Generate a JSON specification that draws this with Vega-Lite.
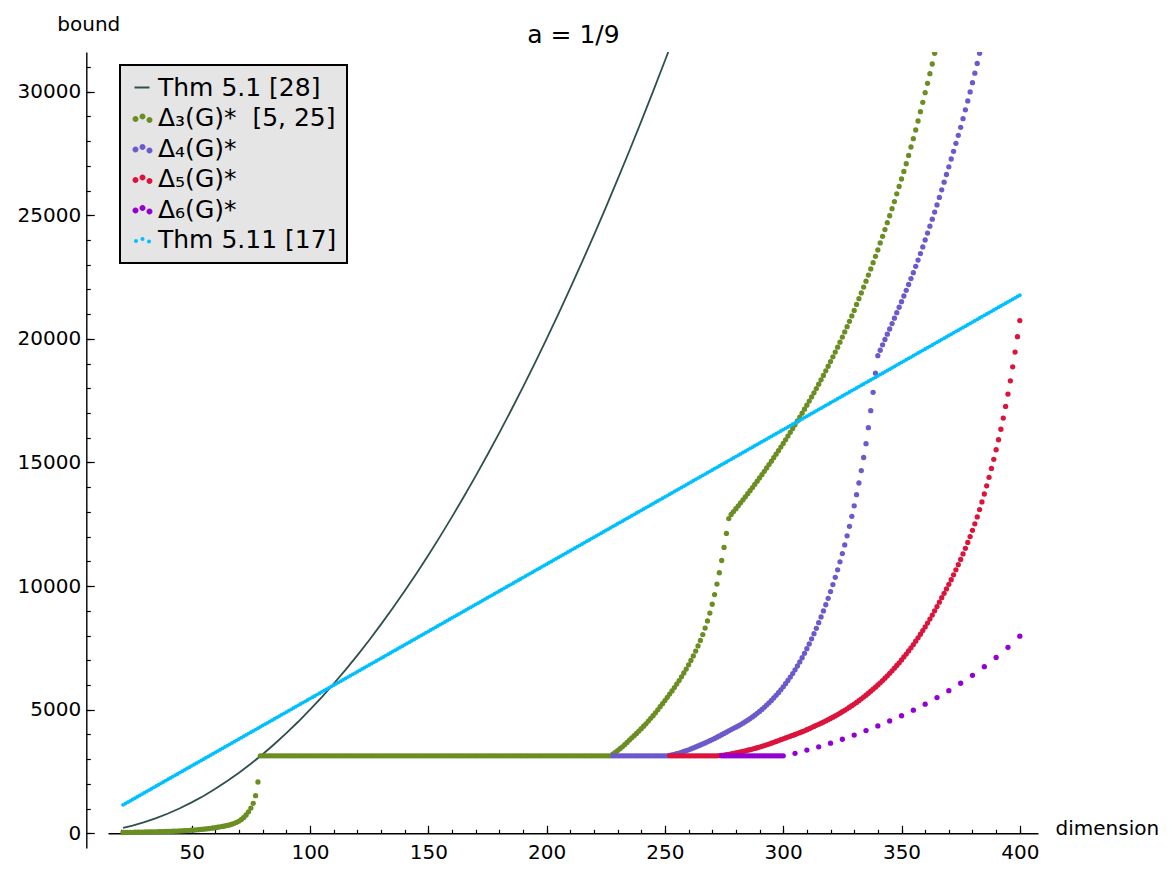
{
"$schema":"https://vega.github.io/schema/vega-lite/v6.json",
"width":930,"height":796,
"autosize":{"type":"none"},
"padding":{"left":108,"top":52,"right":138,"bottom":30},
"background":"white",
"config":{"font":"DejaVu Sans","view":{"stroke":null}},
"data":{"values":[
{"x":21,"c":1150,"g":32,"t":220},{"x":22,"c":1204,"g":34},{"x":23,"c":1259,"g":36},{"x":24,"c":1313,"g":38},{"x":25,"c":1368,"g":40,"t":312},
{"x":26,"c":1422,"g":42},{"x":27,"c":1476,"g":44},{"x":28,"c":1531,"g":46},{"x":29,"c":1585,"g":48},{"x":30,"c":1640,"g":50,"t":450},
{"x":31,"c":1694,"g":52},{"x":32,"c":1748,"g":54},{"x":33,"c":1803,"g":56},{"x":34,"c":1857,"g":58},{"x":35,"c":1912,"g":60,"t":612},
{"x":36,"c":1966,"g":63},{"x":37,"c":2020,"g":66},{"x":38,"c":2075,"g":69},{"x":39,"c":2129,"g":72},{"x":40,"c":2184,"g":75,"t":800},
{"x":41,"c":2238,"g":79},{"x":42,"c":2292,"g":83},{"x":43,"c":2347,"g":87},{"x":44,"c":2401,"g":91},{"x":45,"c":2456,"g":95,"t":1012},
{"x":46,"c":2510,"g":100},{"x":47,"c":2564,"g":106},{"x":48,"c":2619,"g":112},{"x":49,"c":2673,"g":118},{"x":50,"c":2728,"g":125,"t":1250},
{"x":51,"c":2782,"g":132},{"x":52,"c":2836,"g":140},{"x":53,"c":2891,"g":147},{"x":54,"c":2945,"g":155},{"x":55,"c":3000,"g":165,"t":1512},
{"x":56,"c":3054,"g":175},{"x":57,"c":3108,"g":187},{"x":58,"c":3163,"g":200},{"x":59,"c":3217,"g":214},{"x":60,"c":3272,"g":228,"t":1800},
{"x":61,"c":3326,"g":244},{"x":62,"c":3380,"g":260},{"x":63,"c":3435,"g":277},{"x":64,"c":3489,"g":295},{"x":65,"c":3544,"g":317,"t":2112},
{"x":66,"c":3598,"g":340},{"x":67,"c":3652,"g":370},{"x":68,"c":3707,"g":405},{"x":69,"c":3761,"g":445},{"x":70,"c":3816,"g":495,"t":2450},
{"x":71,"c":3870,"g":560},{"x":72,"c":3924,"g":640},{"x":73,"c":3979,"g":740},{"x":74,"c":4033,"g":870},{"x":75,"c":4088,"g":1020,"t":2812},
{"x":76,"c":4142,"g":1214},{"x":77,"c":4196,"g":1522},{"x":78,"c":4251,"g":2075},{"x":79,"c":4305,"g":3135},{"x":80,"c":4360,"g":3135,"t":3200},
{"x":81,"c":4414,"g":3135},{"x":82,"c":4468,"g":3135},{"x":83,"c":4523,"g":3135},{"x":84,"c":4577,"g":3135},{"x":85,"c":4632,"g":3135,"t":3612},
{"x":86,"c":4686,"g":3135},{"x":87,"c":4740,"g":3135},{"x":88,"c":4795,"g":3135},{"x":89,"c":4849,"g":3135},{"x":90,"c":4904,"g":3135,"t":4050},
{"x":91,"c":4958,"g":3135},{"x":92,"c":5012,"g":3135},{"x":93,"c":5067,"g":3135},{"x":94,"c":5121,"g":3135},{"x":95,"c":5176,"g":3135,"t":4512},
{"x":96,"c":5230,"g":3135},{"x":97,"c":5284,"g":3135},{"x":98,"c":5339,"g":3135},{"x":99,"c":5393,"g":3135},{"x":100,"c":5448,"g":3135,"t":5000},
{"x":101,"c":5502,"g":3135},{"x":102,"c":5556,"g":3135},{"x":103,"c":5611,"g":3135},{"x":104,"c":5665,"g":3135},{"x":105,"c":5720,"g":3135,"t":5512},
{"x":106,"c":5774,"g":3135},{"x":107,"c":5828,"g":3135},{"x":108,"c":5883,"g":3135},{"x":109,"c":5937,"g":3135},{"x":110,"c":5992,"g":3135,"t":6050},
{"x":111,"c":6046,"g":3135},{"x":112,"c":6100,"g":3135},{"x":113,"c":6155,"g":3135},{"x":114,"c":6209,"g":3135},{"x":115,"c":6264,"g":3135,"t":6612},
{"x":116,"c":6318,"g":3135},{"x":117,"c":6372,"g":3135},{"x":118,"c":6427,"g":3135},{"x":119,"c":6481,"g":3135},{"x":120,"c":6536,"g":3135,"t":7200},
{"x":121,"c":6590,"g":3135},{"x":122,"c":6644,"g":3135},{"x":123,"c":6699,"g":3135},{"x":124,"c":6753,"g":3135},{"x":125,"c":6808,"g":3135,"t":7812},
{"x":126,"c":6862,"g":3135},{"x":127,"c":6916,"g":3135},{"x":128,"c":6971,"g":3135},{"x":129,"c":7025,"g":3135},{"x":130,"c":7080,"g":3135,"t":8450},
{"x":131,"c":7134,"g":3135},{"x":132,"c":7188,"g":3135},{"x":133,"c":7243,"g":3135},{"x":134,"c":7297,"g":3135},{"x":135,"c":7352,"g":3135,"t":9112},
{"x":136,"c":7406,"g":3135},{"x":137,"c":7460,"g":3135},{"x":138,"c":7515,"g":3135},{"x":139,"c":7569,"g":3135},{"x":140,"c":7624,"g":3135,"t":9800},
{"x":141,"c":7678,"g":3135},{"x":142,"c":7732,"g":3135},{"x":143,"c":7787,"g":3135},{"x":144,"c":7841,"g":3135},{"x":145,"c":7896,"g":3135,"t":10512},
{"x":146,"c":7950,"g":3135},{"x":147,"c":8004,"g":3135},{"x":148,"c":8059,"g":3135},{"x":149,"c":8113,"g":3135},{"x":150,"c":8168,"g":3135,"t":11250},
{"x":151,"c":8222,"g":3135},{"x":152,"c":8276,"g":3135},{"x":153,"c":8331,"g":3135},{"x":154,"c":8385,"g":3135},{"x":155,"c":8440,"g":3135,"t":12012},
{"x":156,"c":8494,"g":3135},{"x":157,"c":8548,"g":3135},{"x":158,"c":8603,"g":3135},{"x":159,"c":8657,"g":3135},{"x":160,"c":8712,"g":3135,"t":12800},
{"x":161,"c":8766,"g":3135},{"x":162,"c":8820,"g":3135},{"x":163,"c":8875,"g":3135},{"x":164,"c":8929,"g":3135},{"x":165,"c":8984,"g":3135,"t":13612},
{"x":166,"c":9038,"g":3135},{"x":167,"c":9092,"g":3135},{"x":168,"c":9147,"g":3135},{"x":169,"c":9201,"g":3135},{"x":170,"c":9256,"g":3135,"t":14450},
{"x":171,"c":9310,"g":3135},{"x":172,"c":9364,"g":3135},{"x":173,"c":9419,"g":3135},{"x":174,"c":9473,"g":3135},{"x":175,"c":9528,"g":3135,"t":15312},
{"x":176,"c":9582,"g":3135},{"x":177,"c":9636,"g":3135},{"x":178,"c":9691,"g":3135},{"x":179,"c":9745,"g":3135},{"x":180,"c":9800,"g":3135,"t":16200},
{"x":181,"c":9854,"g":3135},{"x":182,"c":9908,"g":3135},{"x":183,"c":9963,"g":3135},{"x":184,"c":10017,"g":3135},{"x":185,"c":10072,"g":3135,"t":17112},
{"x":186,"c":10126,"g":3135},{"x":187,"c":10180,"g":3135},{"x":188,"c":10235,"g":3135},{"x":189,"c":10289,"g":3135},{"x":190,"c":10344,"g":3135,"t":18050},
{"x":191,"c":10398,"g":3135},{"x":192,"c":10452,"g":3135},{"x":193,"c":10507,"g":3135},{"x":194,"c":10561,"g":3135},{"x":195,"c":10616,"g":3135,"t":19012},
{"x":196,"c":10670,"g":3135},{"x":197,"c":10724,"g":3135},{"x":198,"c":10779,"g":3135},{"x":199,"c":10833,"g":3135},{"x":200,"c":10888,"g":3135,"t":20000},
{"x":201,"c":10942,"g":3135},{"x":202,"c":10996,"g":3135},{"x":203,"c":11051,"g":3135},{"x":204,"c":11105,"g":3135},{"x":205,"c":11160,"g":3135,"t":21012},
{"x":206,"c":11214,"g":3135},{"x":207,"c":11268,"g":3135},{"x":208,"c":11323,"g":3135},{"x":209,"c":11377,"g":3135},{"x":210,"c":11432,"g":3135,"t":22050},
{"x":211,"c":11486,"g":3135},{"x":212,"c":11540,"g":3135},{"x":213,"c":11595,"g":3135},{"x":214,"c":11649,"g":3135},{"x":215,"c":11704,"g":3135,"t":23112},
{"x":216,"c":11758,"g":3135},{"x":217,"c":11812,"g":3135},{"x":218,"c":11867,"g":3135},{"x":219,"c":11921,"g":3135},{"x":220,"c":11976,"g":3135,"t":24200},
{"x":221,"c":12030,"g":3135},{"x":222,"c":12084,"g":3135},{"x":223,"c":12139,"g":3135},{"x":224,"c":12193,"g":3135},{"x":225,"c":12248,"g":3135,"t":25312},
{"x":226,"c":12302,"g":3135},{"x":227,"c":12356,"g":3135},
{"x":228,"c":12411,"g":3200,"p":3135},{"x":229,"c":12465,"g":3270,"p":3135},{"x":230,"c":12520,"g":3345,"p":3135,"t":26450},
{"x":231,"c":12574,"g":3420,"p":3135},{"x":232,"c":12628,"g":3500,"p":3135},{"x":233,"c":12683,"g":3585,"p":3135},{"x":234,"c":12737,"g":3675,"p":3135},{"x":235,"c":12792,"g":3770,"p":3135,"t":27612},
{"x":236,"c":12846,"g":3860,"p":3135},{"x":237,"c":12900,"g":3950,"p":3135},{"x":238,"c":12955,"g":4040,"p":3135},{"x":239,"c":13009,"g":4135,"p":3135},{"x":240,"c":13064,"g":4230,"p":3135,"t":28800},
{"x":241,"c":13118,"g":4330,"p":3135},{"x":242,"c":13172,"g":4430,"p":3135},{"x":243,"c":13227,"g":4540,"p":3135},{"x":244,"c":13281,"g":4650,"p":3135},{"x":245,"c":13336,"g":4760,"p":3135,"t":30012},
{"x":246,"c":13390,"g":4875,"p":3135},{"x":247,"c":13444,"g":4995,"p":3135},{"x":248,"c":13499,"g":5120,"p":3135},{"x":249,"c":13553,"g":5245,"p":3135},{"x":250,"c":13608,"g":5370,"p":3135,"t":31250},
{"x":251,"c":13662,"g":5500,"p":3135},{"x":252,"c":13716,"g":5630,"p":3150,"r":3135},{"x":253,"c":13771,"g":5760,"p":3170,"r":3135},{"x":254,"c":13825,"g":5895,"p":3193,"r":3135},{"x":255,"c":13880,"g":6035,"p":3219,"r":3135,"t":32512},
{"x":256,"c":13934,"g":6180,"p":3247,"r":3135},{"x":257,"c":13988,"g":6330,"p":3277,"r":3135},{"x":258,"c":14043,"g":6485,"p":3309,"r":3135},{"x":259,"c":14097,"g":6645,"p":3342,"r":3135},{"x":260,"c":14152,"g":6815,"p":3377,"r":3135},
{"x":261,"c":14206,"g":6990,"p":3414,"r":3135},{"x":262,"c":14260,"g":7175,"p":3452,"r":3135},{"x":263,"c":14315,"g":7370,"p":3491,"r":3135},{"x":264,"c":14369,"g":7580,"p":3531,"r":3135},{"x":265,"c":14424,"g":7800,"p":3572,"r":3135},
{"x":266,"c":14478,"g":8040,"p":3614,"r":3135},{"x":267,"c":14532,"g":8300,"p":3657,"r":3135},{"x":268,"c":14587,"g":8590,"p":3701,"r":3135},{"x":269,"c":14641,"g":8910,"p":3746,"r":3135},{"x":270,"c":14696,"g":9265,"p":3792,"r":3135},
{"x":271,"c":14750,"g":9655,"p":3839,"r":3135},{"x":272,"c":14804,"g":10080,"p":3887,"r":3135},{"x":273,"c":14859,"g":10540,"p":3936,"r":3143},{"x":274,"c":14913,"g":11035,"p":3986,"r":3153,"v":3135},{"x":275,"c":14968,"g":11565,"p":4038,"r":3165,"v":3135},
{"x":276,"c":15022,"g":12130,"p":4092,"r":3179,"v":3135},{"x":277,"c":15076,"g":12730,"p":4145,"r":3195,"v":3135},{"x":278,"c":15131,"g":12900,"p":4196,"r":3212,"v":3135},{"x":279,"c":15185,"g":13015,"p":4245,"r":3230,"v":3135},{"x":280,"c":15240,"g":13131,"p":4292,"r":3249,"v":3135},
{"x":281,"c":15294,"g":13249,"p":4344,"r":3269,"v":3135},{"x":282,"c":15348,"g":13368,"p":4398,"r":3290,"v":3135},{"x":283,"c":15403,"g":13489,"p":4455,"r":3312,"v":3135},{"x":284,"c":15457,"g":13611,"p":4514,"r":3335,"v":3135},{"x":285,"c":15512,"g":13735,"p":4576,"r":3359,"v":3135},
{"x":286,"c":15566,"g":13860,"p":4641,"r":3383,"v":3135},{"x":287,"c":15620,"g":13987,"p":4709,"r":3408,"v":3135},{"x":288,"c":15675,"g":14115,"p":4780,"r":3434,"v":3135},{"x":289,"c":15729,"g":14245,"p":4854,"r":3461,"v":3135},{"x":290,"c":15784,"g":14376,"p":4931,"r":3489,"v":3135},
{"x":291,"c":15838,"g":14509,"p":5012,"r":3518,"v":3135},{"x":292,"c":15892,"g":14643,"p":5097,"r":3548,"v":3135},{"x":293,"c":15947,"g":14779,"p":5185,"r":3579,"v":3135},{"x":294,"c":16001,"g":14916,"p":5277,"r":3611,"v":3135},{"x":295,"c":16056,"g":15055,"p":5374,"r":3644,"v":3135},
{"x":296,"c":16110,"g":15195,"p":5475,"r":3678,"v":3135},{"x":297,"c":16164,"g":15337,"p":5580,"r":3713,"v":3135},{"x":298,"c":16219,"g":15480,"p":5690,"r":3749,"v":3135},{"x":299,"c":16273,"g":15625,"p":5805,"r":3786,"v":3135},{"x":300,"c":16328,"g":15771,"p":5925,"r":3821,"v":3135},
{"x":301,"c":16382,"g":15919,"p":6050,"r":3856},{"x":302,"c":16436,"g":16068,"p":6181,"r":3891},{"x":303,"c":16491,"g":16219,"p":6318,"r":3926},{"x":304,"c":16545,"g":16371,"p":6462,"r":3961},{"x":305,"c":16600,"g":16525,"p":6611,"r":3996,"v":3235},
{"x":306,"c":16654,"g":16681,"p":6768,"r":4032},{"x":307,"c":16708,"g":16838,"p":6931,"r":4069},{"x":308,"c":16763,"g":16997,"p":7102,"r":4107},{"x":309,"c":16817,"g":17157,"p":7280,"r":4147},{"x":310,"c":16872,"g":17319,"p":7467,"r":4189,"v":3365},
{"x":311,"c":16926,"g":17484,"p":7662,"r":4233},{"x":312,"c":16980,"g":17651,"p":7865,"r":4278},{"x":313,"c":17035,"g":17820,"p":8075,"r":4325},{"x":314,"c":17089,"g":17992,"p":8293,"r":4366},{"x":315,"c":17144,"g":18167,"p":8519,"r":4409,"v":3500},
{"x":316,"c":17198,"g":18344,"p":8753,"r":4453},{"x":317,"c":17252,"g":18524,"p":8995,"r":4499},{"x":318,"c":17307,"g":18707,"p":9246,"r":4546},{"x":319,"c":17361,"g":18893,"p":9507,"r":4595},{"x":320,"c":17416,"g":19082,"p":9778,"r":4645,"v":3645},
{"x":321,"c":17470,"g":19274,"p":10060,"r":4696},{"x":322,"c":17524,"g":19469,"p":10354,"r":4749},{"x":323,"c":17579,"g":19667,"p":10660,"r":4803},{"x":324,"c":17633,"g":19869,"p":10980,"r":4859},{"x":325,"c":17688,"g":20074,"p":11315,"r":4916,"v":3805},
{"x":326,"c":17742,"g":20282,"p":11665,"r":4975},{"x":327,"c":17796,"g":20494,"p":12032,"r":5036},{"x":328,"c":17851,"g":20709,"p":12417,"r":5098},{"x":329,"c":17905,"g":20928,"p":12822,"r":5162},{"x":330,"c":17960,"g":21150,"p":13248,"r":5228,"v":3975},
{"x":331,"c":18014,"g":21396,"p":13697,"r":5296},{"x":332,"c":18068,"g":21626,"p":14171,"r":5366},{"x":333,"c":18123,"g":21859,"p":14672,"r":5438},{"x":334,"c":18177,"g":22096,"p":15202,"r":5512},{"x":335,"c":18232,"g":22337,"p":15763,"r":5588,"v":4155},
{"x":336,"c":18286,"g":22582,"p":16408,"r":5666},{"x":337,"c":18340,"g":22831,"p":17095,"r":5746},{"x":338,"c":18395,"g":23083,"p":17840,"r":5828},{"x":339,"c":18449,"g":23339,"p":18615,"r":5912},{"x":340,"c":18504,"g":23599,"p":19320,"r":5999,"v":4345},
{"x":341,"c":18558,"g":23883,"p":19540,"r":6088},{"x":342,"c":18612,"g":24151,"p":19760,"r":6180},{"x":343,"c":18667,"g":24424,"p":19975,"r":6274},{"x":344,"c":18721,"g":24701,"p":20190,"r":6371},{"x":345,"c":18776,"g":24982,"p":20400,"r":6471,"v":4545},
{"x":346,"c":18830,"g":25267,"p":20620,"r":6574},{"x":347,"c":18884,"g":25556,"p":20840,"r":6679},{"x":348,"c":18939,"g":25869,"p":21060,"r":6787},{"x":349,"c":18993,"g":26167,"p":21280,"r":6898},{"x":350,"c":19048,"g":26469,"p":21505,"r":7013,"v":4755},
{"x":351,"c":19102,"g":26775,"p":21735,"r":7131},{"x":352,"c":19156,"g":27086,"p":21965,"r":7252},{"x":353,"c":19211,"g":27421,"p":22200,"r":7376},{"x":354,"c":19265,"g":27763,"p":22440,"r":7504},{"x":355,"c":19320,"g":28099,"p":22680,"r":7635,"v":4980},
{"x":356,"c":19374,"g":28451,"p":22935,"r":7770},{"x":357,"c":19428,"g":28815,"p":23190,"r":7909},{"x":358,"c":19483,"g":29191,"p":23450,"r":8052},{"x":359,"c":19537,"g":29572,"p":23720,"r":8199},{"x":360,"c":19592,"g":29960,"p":24000,"r":8350,"v":5225},
{"x":361,"c":19646,"g":30340,"p":24280,"r":8505},{"x":362,"c":19700,"g":30729,"p":24560,"r":8665},{"x":363,"c":19755,"g":31121,"p":24845,"r":8829},{"x":364,"c":19809,"g":31553,"p":25130,"r":8998},{"x":365,"c":19864,"p":25420,"r":9171,"v":5490},
{"x":366,"c":19918,"p":25725,"r":9349},{"x":367,"c":19972,"p":26030,"r":9532},{"x":368,"c":20027,"p":26340,"r":9706},{"x":369,"c":20081,"p":26650,"r":9885},{"x":370,"c":20136,"p":26960,"r":10070,"v":5770},
{"x":371,"c":20190,"p":27278,"r":10261},{"x":372,"c":20244,"p":27590,"r":10456},{"x":373,"c":20299,"p":27910,"r":10658},{"x":374,"c":20353,"p":28235,"r":10866},{"x":375,"c":20408,"p":28560,"r":11079,"v":6070},
{"x":376,"c":20462,"p":28910,"r":11300},{"x":377,"c":20516,"p":29265,"r":11530},{"x":378,"c":20571,"p":29625,"r":11765},{"x":379,"c":20625,"p":29990,"r":12005},{"x":380,"c":20680,"p":30364,"r":12255,"v":6390},
{"x":381,"c":20734,"p":30750,"r":12520},{"x":382,"c":20788,"p":31145,"r":12800},{"x":383,"c":20843,"p":31553,"r":13095},{"x":384,"c":20897,"r":13405},{"x":385,"c":20952,"r":13725,"v":6740},
{"x":386,"c":21006,"r":14055},{"x":387,"c":21060,"r":14400},{"x":388,"c":21115,"r":14760},{"x":389,"c":21169,"r":15130},{"x":390,"c":21224,"r":15515,"v":7115},
{"x":391,"c":21278,"r":15920},{"x":392,"c":21332,"r":16345},{"x":393,"c":21387,"r":16795},{"x":394,"c":21441,"r":17270},{"x":395,"c":21496,"r":17770,"v":7525},
{"x":396,"c":21550,"r":18305},{"x":397,"c":21604,"r":18870},{"x":398,"c":21659,"r":19465},{"x":399,"c":21713,"r":20090},{"x":400,"c":21768,"r":20740,"v":7975}
]},
"transform":[{"fold":["t","g","p","r","v","c"],"as":["s","y"]},{"filter":"isValid(datum.y)"}],
"layer":[
{"transform":[{"filter":"datum.s==='t'"}],
 "mark":{"type":"line","strokeWidth":1.8,"clip":true},
 "encoding":{
  "x":{"field":"x","type":"quantitative","scale":{"domain":[14.62,407.69],"nice":false,"zero":false},
   "axis":{"orient":"bottom","offset":-14.7,"values":[20,30,40,50,60,70,80,90,100,110,120,130,140,150,160,170,180,190,200,210,220,230,240,250,260,270,280,290,300,310,320,330,340,350,360,370,380,390,400],"labels":false,"tickSize":-4,"tickColor":"black","tickWidth":1.2,"domain":true,"domainColor":"black","domainWidth":1.4,"grid":false,"title":null}},
  "y":{"field":"y","type":"quantitative","scale":{"domain":[-595,31606],"nice":false,"zero":false},
   "axis":{"orient":"left","offset":21.7,"values":[0,1000,2000,3000,4000,5000,6000,7000,8000,9000,10000,11000,12000,13000,14000,15000,16000,17000,18000,19000,20000,21000,22000,23000,24000,25000,26000,27000,28000,29000,30000,31000],"labels":false,"tickSize":-4,"tickColor":"black","tickWidth":1.2,"domain":true,"domainColor":"black","domainWidth":1.4,"grid":false,"title":null}},
  "color":{"field":"s","type":"nominal",
   "scale":{"domain":["t","g","p","r","v","c"],"range":["#2f4f4f","#6b8e23","#6a5acd","#dc143c","#9400d3","#00bfff"]},
   "legend":{"orient":"none","legendX":12,"legendY":13,"title":null,"fillColor":"#e5e5e5","strokeColor":"black","padding":10,"rowPadding":4.5,
    "labelFontSize":25,"labelFont":"DejaVu Sans","labelColor":"black","labelLimit":400,"symbolSize":400,"labelOffset":3,
    "labelExpr":"datum.value==='t'?'Thm 5.1 [28]':datum.value==='g'?'Δ₃(G)*\u00a0 [5, 25]':datum.value==='p'?'Δ₄(G)*':datum.value==='r'?'Δ₅(G)*':datum.value==='v'?'Δ₆(G)*':'Thm 5.11 [17]'",
    "encode":{
     "legend":{"update":{"strokeWidth":{"value":2}}},
     "symbols":{"update":{
      "shape":{"signal":"datum.value==='t'?'M-0.8,-0.1H0.7V0.1H-0.8Z':datum.value==='c'?'M-0.85,0.1a0.2,0.2 0 1,0 0.4,0a0.2,0.2 0 1,0 -0.4,0ZM-0.2,-0.1a0.2,0.2 0 1,0 0.4,0a0.2,0.2 0 1,0 -0.4,0ZM0.45,0.15a0.2,0.2 0 1,0 0.4,0a0.2,0.2 0 1,0 -0.4,0Z':'M-1,0.1a0.3,0.3 0 1,0 0.6,0a0.3,0.3 0 1,0 -0.6,0ZM-0.3,-0.15a0.3,0.3 0 1,0 0.6,0a0.3,0.3 0 1,0 -0.6,0ZM0.4,0.2a0.3,0.3 0 1,0 0.6,0a0.3,0.3 0 1,0 -0.6,0Z'"},
      "fill":{"scale":"color","field":"value"},
      "stroke":{"value":"transparent"},
      "strokeWidth":{"value":0},
      "opacity":{"value":1}}}}}}
 }},
{"transform":[{"filter":"datum.s==='g'"}],
 "mark":{"type":"point","filled":true,"size":28,"opacity":1,"clip":true,"strokeWidth":0},
 "encoding":{
  "x":{"field":"x","type":"quantitative",
   "axis":{"orient":"bottom","offset":-14.7,"values":[50,100,150,200,250,300,350,400],"format":"d","tickSize":-8,"tickColor":"black","tickWidth":1.2,"domain":false,"grid":false,
    "labelFontSize":20,"labelFont":"DejaVu Sans","labelColor":"black","labelPadding":17,"labelFlush":false,"labelOverlap":false,
    "title":"dimension","titleFont":"DejaVu Sans","titleFontSize":20,"titleFontWeight":"normal","titleColor":"black","titleX":947,"titleY":1,"titleAlign":"left","titleBaseline":"alphabetic","titleAngle":0}},
  "y":{"field":"y","type":"quantitative",
   "axis":{"orient":"left","offset":21.7,"values":[0,5000,10000,15000,20000,25000,30000],"format":"d","tickSize":-8,"tickColor":"black","tickWidth":1.2,"domain":false,"grid":false,
    "labelFontSize":20,"labelFont":"DejaVu Sans","labelColor":"black","labelPadding":13.6,"labelFlush":false,"labelOverlap":false,
    "title":"bound","titleFont":"DejaVu Sans","titleFontSize":20,"titleFontWeight":"normal","titleColor":"black","titleAngle":0,"titleX":2,"titleY":-21.3,"titleAlign":"center","titleBaseline":"alphabetic"}},
  "color":{"field":"s","type":"nominal"}
 }},
{"transform":[{"filter":"datum.s==='p'"}],
 "mark":{"type":"point","filled":true,"size":28,"opacity":1,"clip":true,"strokeWidth":0},
 "encoding":{
  "x":{"field":"x","type":"quantitative",
   "axis":{"orient":"top","ticks":false,"labels":false,"domain":false,"grid":false,
    "title":"a = 1/9","titleFont":"DejaVu Sans","titleFontSize":25,"titleFontWeight":"normal","titleColor":"black","titleX":465,"titleY":-9.3,"titleAlign":"center","titleBaseline":"alphabetic","titleAngle":0}},
  "y":{"field":"y","type":"quantitative","axis":null},
  "color":{"field":"s","type":"nominal"}
 }},
{"transform":[{"filter":"datum.s==='r'"}],
 "mark":{"type":"point","filled":true,"size":28,"opacity":1,"clip":true,"strokeWidth":0},
 "encoding":{
  "x":{"field":"x","type":"quantitative","axis":null},
  "y":{"field":"y","type":"quantitative","axis":null},
  "color":{"field":"s","type":"nominal"}
 }},
{"transform":[{"filter":"datum.s==='v'"}],
 "mark":{"type":"point","filled":true,"size":28,"opacity":1,"clip":true,"strokeWidth":0},
 "encoding":{
  "x":{"field":"x","type":"quantitative","axis":null},
  "y":{"field":"y","type":"quantitative","axis":null},
  "color":{"field":"s","type":"nominal"}
 }},
{"transform":[{"filter":"datum.s==='c'"}],
 "mark":{"type":"point","filled":true,"size":15,"opacity":1,"clip":true,"strokeWidth":0},
 "encoding":{
  "x":{"field":"x","type":"quantitative","axis":null},
  "y":{"field":"y","type":"quantitative","axis":null},
  "color":{"field":"s","type":"nominal"}
 }}
],
"resolve":{"axis":{"x":"independent","y":"independent"}}
}
